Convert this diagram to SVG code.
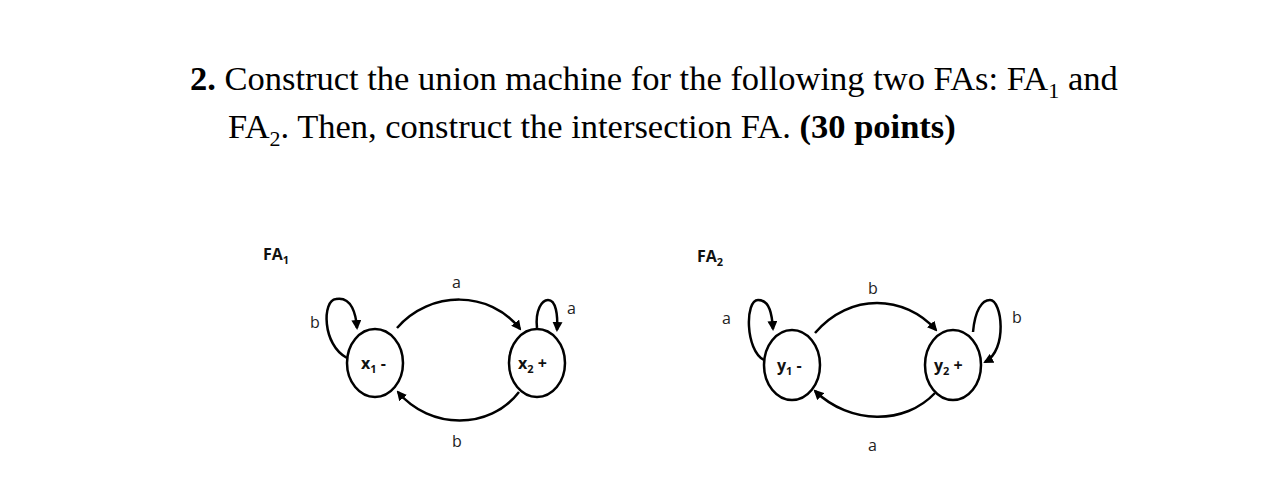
<svg xmlns="http://www.w3.org/2000/svg" width="1284" height="497" viewBox="0 0 1284 497">
<style>
.t{font-family:"Liberation Serif",serif;font-size:34.5px;fill:#000}
.l{font-family:"Open Sans","Liberation Sans",sans-serif;font-size:16px;fill:#222}
.s{fill:#fff;stroke:#000;stroke-width:2.5}
.c{fill:none;stroke:#000;stroke-width:2.5;marker-end:url(#ah)}
.n{font-family:"Open Sans","Liberation Sans",sans-serif;font-size:16px;font-weight:bold;fill:#111}
</style>
<defs><marker id="ah" viewBox="0 0 10 10" refX="8" refY="5" markerWidth="4" markerHeight="4" orient="auto"><path d="M0,0L10,5L0,10z" fill="#000"/></marker></defs>
<rect width="1284" height="497" fill="#fff"/>
<text class="t" x="190" y="90"><tspan font-weight="bold">2.</tspan> Construct the union machine for the following two FAs: FA<tspan font-size="22" dy="8">1</tspan><tspan dy="-8"> and</tspan></text>
<text class="t" x="228" y="138">FA<tspan font-size="22" dy="8">2</tspan><tspan dy="-8">. Then, construct the intersection FA. </tspan><tspan font-weight="bold">(30 points)</tspan></text>
<text class="n" x="263" y="260">FA<tspan font-size="11" dy="4">1</tspan></text>
<text class="n" x="697" y="262">FA<tspan font-size="11" dy="4">2</tspan></text>
<g id="connectors">
<path class="c" d="M397,328 C430,290 490,290 520,329"/>
<path class="c" d="M519,392 C490,430 430,430 398,392"/>
<path class="c" d="M347,358 C322,345 322,300 336,299 C352,296 356,315 357,328"/>
<path class="c" d="M537,328 C535,310 542,300 548,300 C556,300 558,315 557,330"/>
<path class="c" d="M815,333 C850,292 905,295 936,330"/>
<path class="c" d="M935,393 C905,425 850,425 815,391"/>
<path class="c" d="M764,360 C745,350 745,300 758,300 C770,300 772,315 773,329"/>
<path class="c" d="M973,332 C975,310 982,300 990,300 C1002,300 1008,350 985,362"/>
</g>
<g id="x1"><ellipse class="s" cx="375" cy="363" rx="28" ry="34"/><text class="n" x="361" y="369">x<tspan font-size="11" dy="4">1</tspan><tspan dy="-4"> -</tspan></text></g>
<g id="x2"><ellipse class="s" cx="537" cy="363" rx="28" ry="34"/><text class="n" x="518" y="369">x<tspan font-size="11" dy="4">2</tspan><tspan dy="-4"> +</tspan></text></g>
<g id="y1"><ellipse class="s" cx="792" cy="365" rx="28" ry="35"/><text class="n" x="777" y="371">y<tspan font-size="11" dy="4">1</tspan><tspan dy="-4"> -</tspan></text></g>
<g id="y2"><ellipse class="s" cx="953" cy="365" rx="28" ry="35"/><text class="n" x="934" y="371">y<tspan font-size="11" dy="4">2</tspan><tspan dy="-4"> +</tspan></text></g>
<text class="l" x="452" y="288">a</text><text class="l" x="310" y="328">b</text><text class="l" x="567" y="314">a</text><text class="l" x="452" y="447">b</text>
<text class="l" x="868" y="294">b</text><text class="l" x="722" y="324">a</text><text class="l" x="1012" y="323">b</text><text class="l" x="868" y="451">a</text>
</svg>
